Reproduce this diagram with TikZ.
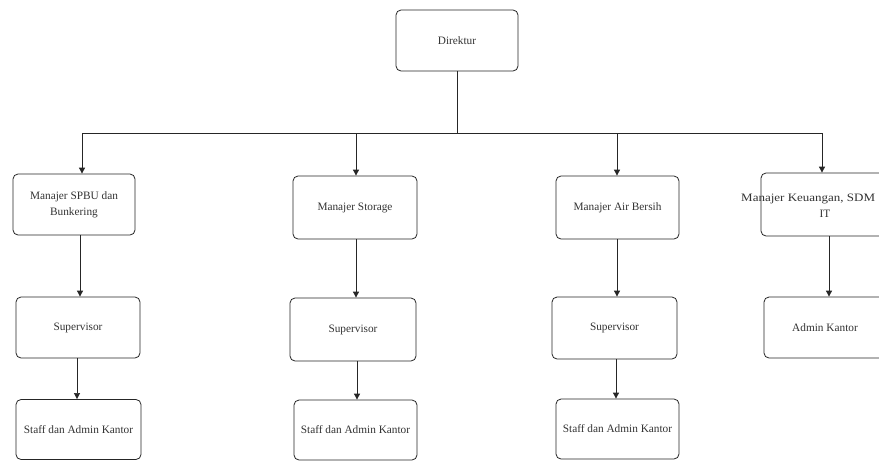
\documentclass[tikz,border=0pt]{standalone}
\usepackage{fontspec}
\setmainfont{Liberation Serif}
\usetikzlibrary{arrows.meta}
\tikzset{
  box/.style={draw=black!85, line width=0.8pt, rounded corners=5pt, inner sep=0pt,
    align=center, text=black!80, font=\fontsize{11.3}{16}\selectfont},
  lbl/.style={inner sep=0pt, align=center, text=black!80, font=\fontsize{11.3}{16}\selectfont},
  arr/.style={draw=black!85, line width=0.9pt, -{Triangle[length=6pt,width=6pt]}},
  ln/.style={draw=black!85, line width=0.9pt}
}
\begin{document}
\begin{tikzpicture}[x=1pt,y=-1pt]
\clip (0,0) rectangle (879,461);
\fill[white] (0,0) rectangle (879,461);
% nodes
\node[box, minimum width=122pt, minimum height=61pt] (dir) at (457,40.5) {Direktur};
\node[box, minimum width=122pt, minimum height=61pt] (m1) at (74,204.5) {Manajer SPBU dan\\Bunkering};
\node[box, minimum width=124pt, minimum height=61pt] (s1) at (78,327.5) {Supervisor};
\node[box, minimum width=125pt, minimum height=60pt] (t1) at (78.5,429.5) {Staff dan Admin Kantor};
\node[box, minimum width=124pt, minimum height=63pt] (m2) at (355,207.5) {Manajer Storage};
\node[box, minimum width=126pt, minimum height=63pt] (s2) at (353,329.5) {Supervisor};
\node[box, minimum width=123pt, minimum height=60pt] (t2) at (355.5,430) {Staff dan Admin Kantor};
\node[box, minimum width=123pt, minimum height=63pt] (m3) at (617.5,207.5) {Manajer Air Bersih};
\node[box, minimum width=125pt, minimum height=62pt] (s3) at (614.5,328) {Supervisor};
\node[box, minimum width=123pt, minimum height=60pt] (t3) at (617.5,429) {Staff dan Admin Kantor};
\node[box, minimum width=125pt, minimum height=63pt] (m4) at (823.5,204.5) {};
\node[lbl, anchor=base west] (m4t) at (741,201.5) {\scalebox{1.15}[1]{Manajer Keuangan, SDM}};
\node[lbl] (m4u) at (825,214) {IT};
\node[box, minimum width=122pt, minimum height=61pt] (a4) at (825,327.5) {Admin Kantor};
% bus
\coordinate (b0) at (457,133);
\coordinate (b1) at (82,133);
\coordinate (b2) at (356,133);
\coordinate (b3) at (617,133);
\coordinate (b4) at (822,133);
\draw[ln] (dir.south) -- (b0);
\draw[ln] (b1) -- (b4);
\draw[arr] (b1) -- (b1 |- m1.north);
\draw[arr] (b2) -- (b2 |- m2.north);
\draw[arr] (b3) -- (b3 |- m3.north);
\draw[arr] (b4) -- (b4 |- m4.north);
% columns
\draw[arr] (m1.south -| 80,0) -- (s1.north -| 80,0);
\draw[arr, line width=0.6pt] (s1.south -| 77,0) -- (t1.north -| 77,0);
\draw[arr] (m2.south -| 356,0) -- (s2.north -| 356,0);
\draw[arr] (s2.south -| 357,0) -- (t2.north -| 357,0);
\draw[arr] (m3.south -| 617,0) -- (s3.north -| 617,0);
\draw[arr] (s3.south -| 616,0) -- (t3.north -| 616,0);
\draw[arr] (m4.south -| 829,0) -- (a4.north -| 829,0);
\end{tikzpicture}
\end{document}
